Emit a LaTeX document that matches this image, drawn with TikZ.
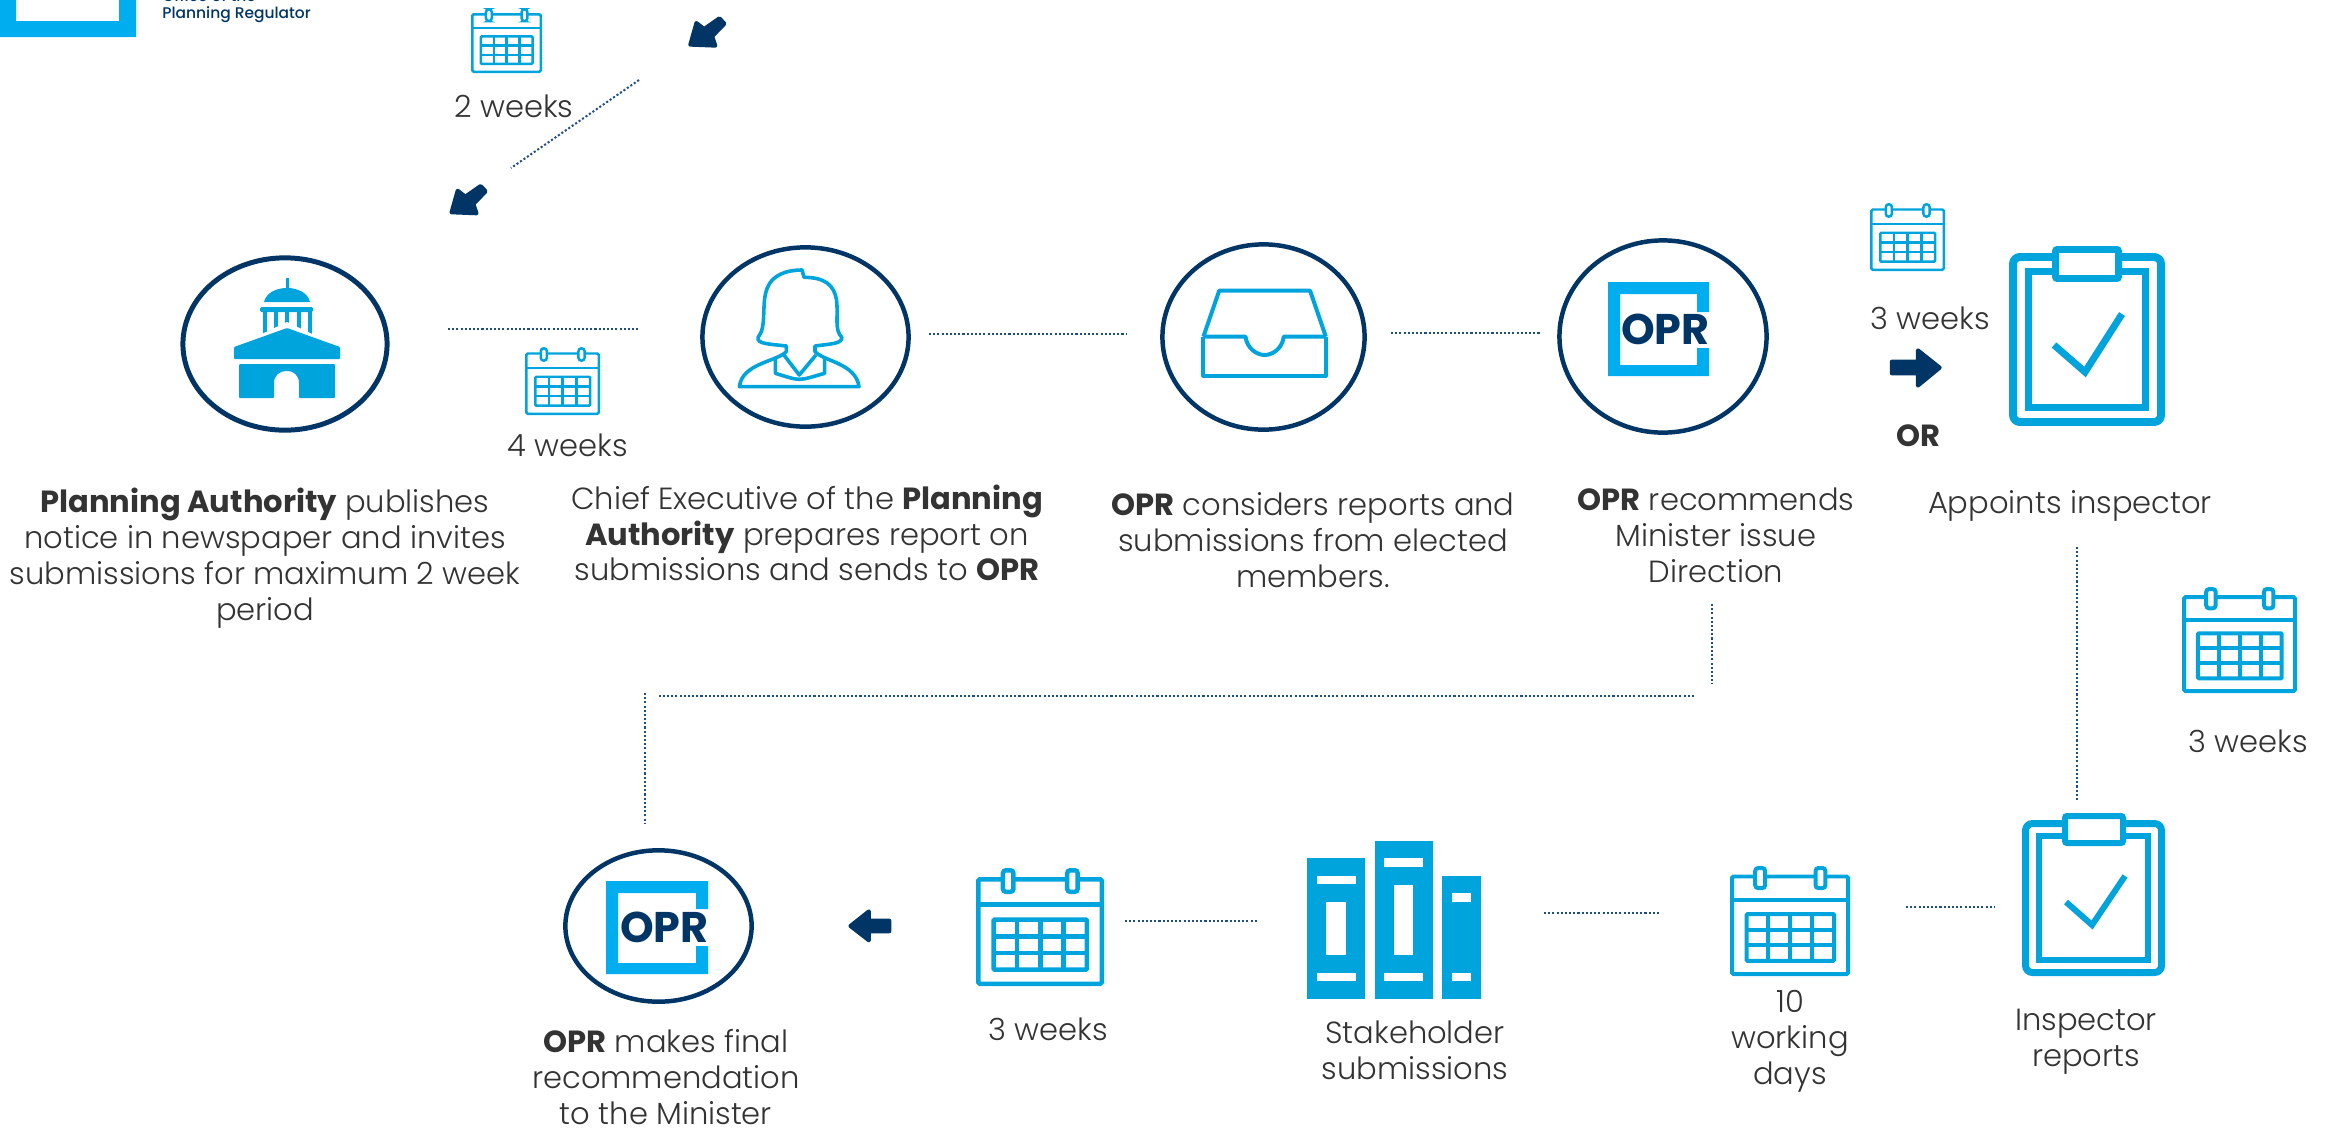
\documentclass[tikz,border=0pt]{standalone}
\usepackage{fontspec}
\setmainfont{Poppins}[UprightFont=* Light,BoldFont=* Bold]
\newfontfamily\logofont{Poppins}[UprightFont=* Medium,BoldFont=* Bold]
\usetikzlibrary{shapes.geometric}
\definecolor{icon}{HTML}{00A4DC}
\definecolor{bright}{HTML}{00AEEF}
\definecolor{navy}{HTML}{003566}
\definecolor{dotc}{HTML}{1F4E85}
\definecolor{ink}{HTML}{333333}
\def\pxu{0.5669pt}
\tikzset{
  txt/.style={align=center,inner sep=0pt,text=ink,font=\fontsize{17.4}{20.4}\selectfont},
  ring/.style={draw=navy,fill=white,ellipse,inner sep=0pt,line width=4.5*\pxu},
  dotline/.style={draw=dotc,line width=2*\pxu,dash pattern=on 2.1*\pxu off 2.1*\pxu},
  iconline/.style={draw=icon,line width=4.5*\pxu,line join=round},
  arrowfill/.style={fill=navy,draw=navy,line width=4*\pxu,line join=round},
  oprtext/.style={inner sep=0pt,text=navy,font=\logofont\bfseries\fontsize{24.4}{26}\selectfont}
}
% x0 y0 x1 y1 line width
\newcommand\calicon[5]{%
  \begin{scope}[shift={(#1+#5/2,#2+#5/2)},xscale=#3-#1-#5,yscale=#4-#2-#5]
    \draw[draw=icon,line width=#5*\pxu,rounded corners=1.5*\pxu] (0,.08) rectangle (1,1);
    \draw[draw=icon,line width=#5*\pxu] (0,.3) -- (1,.3);
    \draw[draw=icon,fill=white,line width=#5*\pxu,rounded corners=3*\pxu] (.2,0) rectangle (.285,.19);
    \draw[draw=icon,fill=white,line width=#5*\pxu,rounded corners=3*\pxu] (.72,0) rectangle (.805,.19);
    \draw[draw=icon,line width=#5*\pxu,rounded corners=1*\pxu] (.125,.435) rectangle (.88,.875);
    \foreach \k in {1,2,3} \draw[draw=icon,line width=#5*\pxu] ({.125+\k*.18875},.435) -- ({.125+\k*.18875},.875);
    \foreach \k in {1,2} \draw[draw=icon,line width=#5*\pxu] (.125,{.435+\k*.14667}) -- (.88,{.435+\k*.14667});
  \end{scope}}
\newcommand\clipicon[5]{%
  \draw[draw=icon,line width=#5*\pxu,rounded corners=7*\pxu] (#1+#5/2,#2+#5/2) rectangle (#3-#5/2,#4-#5/2);}
\newcommand\clipclip[5]{%
  \draw[draw=icon,line width=#5*\pxu,fill=white,rounded corners=2*\pxu] (#1+#5/2,#2+#5/2) rectangle (#3-#5/2,#4-#5/2);}
% x0 y0 x1 y1 ytop ybot
\newcommand\oprlogo[6]{%
  \fill[bright] (#1,#2) -- (#3,#2) -- (#3,#5) -- (#3-12,#5) -- (#3-12,#2+12) -- (#1+12,#2+12) -- (#1+12,#4-11) -- (#3-12,#4-11) -- (#3-12,#6) -- (#3,#6) -- (#3,#4) -- (#1,#4) -- cycle;}
\begin{document}
\begin{tikzpicture}[x=0.02cm,y=-0.02cm]
\path[use as bounding box] (0,0) rectangle (2336,1130);
\clip (0,0) rectangle (2336,1130);

% logo
\fill[bright] (0,-5) -- (16,-5) -- (16,21) -- (119,21) -- (119,-5) -- (136,-5) -- (136,37) -- (0,37) -- cycle;
\node[anchor=base west,inner sep=0pt,text=navy,font=\logofont\fontsize{8.8}{10}\selectfont] (logoA) at (162,1.5) {Office of the};
\node[anchor=base west,inner sep=0pt,text=navy,font=\logofont\fontsize{8.8}{10}\selectfont] (logoB) at (162,18) {Planning Regulator};

% ellipses
\node[ring,line width=5*\pxu,minimum width=205*\pxu,minimum height=173*\pxu] (authority) at (285,344) {};
\node[ring,minimum width=207*\pxu,minimum height=180*\pxu] (chief) at (805.5,337) {};
\node[ring,minimum width=203*\pxu,minimum height=186*\pxu] (tray) at (1263.5,337) {};
\node[ring,minimum width=208*\pxu,minimum height=193*\pxu] (oprA) at (1663,336.5) {};
\node[ring,minimum width=187*\pxu,minimum height=152*\pxu] (oprB) at (658.5,926) {};

% building
\fill[icon] (285.5,278) rectangle (288.5,291);
\fill[icon] (264,302) .. controls (266,293) and (276,288) .. (287,288) .. controls (298,288) and (308,293) .. (310,302) -- cycle;
\fill[icon,rounded corners=1.5*\pxu] (260,307) rectangle (313,312);
\foreach \cx in {264.5,275.5,287,298.5,309.5} \fill[icon] (\cx-2,312) rectangle (\cx+2,334);
\fill[white] (287,322) -- (346,350) -- (228,350) -- cycle;
\fill[icon,rounded corners=1*\pxu] (234,347) -- (287,328) -- (340,347) -- (340,359) -- (234,359) -- cycle;
\fill[icon,rounded corners=1*\pxu] (239,364) -- (335,364) -- (335,398) -- (299,398) -- (299,384) .. controls (299,375) and (293,371) .. (287,371) .. controls (280,371) and (274,375) .. (274,384) -- (274,398) -- (239,398) -- cycle;

% woman
\begin{scope}[shift={(650,220)},xscale=0.4783,yscale=0.3333]
  \draw[iconline,line width=3.6*\pxu] (285,378) .. controls (250,372) and (222,372) .. (226,352) .. controls (245,320) and (232,250) .. (245,205) .. controls (255,165) and (285,150) .. (318,150) -- (322,172) .. controls (365,172) and (385,195) .. (390,240) .. controls (394,290) and (385,330) .. (401,352) .. controls (402,372) and (375,372) .. (345,378) -- (345,395) .. controls (365,425) and (430,430) .. (437,500) -- (187,500) .. controls (192,430) and (265,425) .. (285,395) -- cycle;
  \draw[iconline,line width=3.6*\pxu] (262,415) -- (262,460) .. controls (285,470) and (300,478) .. (312,478) .. controls (325,478) and (340,470) .. (365,460) -- (365,415);
  \draw[iconline,line width=3.6*\pxu] (280,405) -- (312,465) -- (347,405);
\end{scope}

% tray
\begin{scope}[shift={(650,220)},xscale=0.4783,yscale=0.3333]
  \draw[iconline,line width=4*\pxu] (1157,350) -- (1190,212) -- (1380,212) -- (1413,350);
  \draw[iconline,line width=4*\pxu] (1157,350) -- (1157,467) -- (1413,467) -- (1413,350);
  \draw[iconline,line width=4*\pxu] (1157,350) -- (1245,350) .. controls (1248,385) and (1268,405) .. (1285,405) .. controls (1302,405) and (1322,385) .. (1325,350) -- (1413,350);
\end{scope}

% OPR logos
\oprlogo{1608}{282}{1709}{376}{312}{348}
\node[oprtext,anchor=east] (oprwordA) at (1710,329) {OPR};
\oprlogo{606}{881}{708}{974}{909}{946}
\node[oprtext,anchor=east] (oprwordB) at (709,927) {OPR};

% calendars
\calicon{471}{8}{542}{73}{2.5}
\calicon{525}{347}{600}{415}{2.5}
\calicon{1870}{203}{1945}{271}{2.5}
\calicon{2182}{587}{2297}{693}{4}
\calicon{1730}{866}{1850}{976}{4}
\calicon{976}{868}{1104}{986}{4.5}

% clipboards
\clipicon{2009}{253}{2165}{426}{8}
\draw[draw=icon,line width=7*\pxu,fill=white] (2028.5,271.5) rectangle (2145.5,407.5);
\clipclip{2052}{246}{2122}{282}{7}
\draw[draw=icon,line width=7*\pxu] (2054,345) -- (2085,372) -- (2122,314);
\clipicon{2022}{820}{2165}{976}{7}
\draw[draw=icon,line width=6*\pxu,fill=white] (2039,836) rectangle (2148,960);
\clipclip{2062}{813}{2126}{846}{6}
\draw[draw=icon,line width=6*\pxu] (2066,902) -- (2092,925) -- (2125,876);

% books
\fill[icon] (1307,858) rectangle (1365,999);
\fill[icon] (1375,841) rectangle (1433,999);
\fill[icon] (1442,876) rectangle (1481,999);
\fill[white] (1317,876) rectangle (1356,884);
\fill[white] (1326,902) rectangle (1346,955);
\fill[white] (1317,973) rectangle (1356,981);
\fill[white] (1384,858) rectangle (1423,867);
\fill[white] (1394,885) rectangle (1413,955);
\fill[white] (1384,973) rectangle (1423,981);
\fill[white] (1452,893) rectangle (1471,902);
\fill[white] (1452,973) rectangle (1471,981);

% arrows
\begin{scope}[xscale=0.5102,yscale=0.3333]
  \fill[arrowfill] (885,637) -- (897,572) -- (912,590) -- (942,558) -- (952,574) -- (928,612) -- (934,640) -- cycle;
  \fill[arrowfill] (1353,134) -- (1365,69) -- (1380,87) -- (1410,55) -- (1420,71) -- (1396,109) -- (1402,137) -- cycle;
\end{scope}
\begin{scope}[shift={(1500,180)},xscale=0.5330,yscale=0.3333]
  \fill[arrowfill] (735,545) -- (784,545) -- (784,511) -- (825,563) -- (784,617) -- (784,580) -- (735,580) -- cycle;
\end{scope}
\begin{scope}[shift={(520,820)},xscale=0.6378,yscale=0.3333]
  \fill[arrowfill] (518,318) -- (547,274) -- (547,302) -- (579,302) -- (579,334) -- (547,334) -- (547,361) -- cycle;
\end{scope}

% dotted connectors (free ends)
\coordinate (d1a) at (639,80);   \coordinate (d1b) at (511,168);
\coordinate (d2a) at (448,329);  \coordinate (d2b) at (640,329);
\coordinate (d3a) at (929,334);  \coordinate (d3b) at (1127,334);
\coordinate (d4a) at (1391,333); \coordinate (d4b) at (1540,333);
\coordinate (d5a) at (2077,547); \coordinate (d5b) at (2077,801);
\coordinate (d6a) at (1712,604); \coordinate (d6b) at (1712,684);
\coordinate (d7a) at (1694,696); \coordinate (d7b) at (657,696);
\coordinate (d8a) at (645,693);  \coordinate (d8b) at (645,824);
\coordinate (d9a) at (1544,913); \coordinate (d9b) at (1660,913);
\coordinate (d10a) at (1906,907);\coordinate (d10b) at (1994,907);
\coordinate (d11a) at (1125,921);\coordinate (d11b) at (1257,921);
\foreach \a/\b in {d1a/d1b,d2a/d2b,d3a/d3b,d4a/d4b,d5a/d5b,d6a/d6b,d7a/d7b,d8a/d8b,d9a/d9b,d10a/d10b,d11a/d11b}
  \path[dotline] (\a) -- (\b);

% text
\node[txt] (t2w) at (514,106) {2 weeks};
\node[txt] (t4w) at (568,445) {4 weeks};
\node[txt] (t3wa) at (1930,318) {3 weeks};
\node[txt,font=\bfseries\fontsize{17.4}{20.4}\selectfont] (tor) at (1918,436) {OR};
\node[txt] (t3wb) at (2248,741) {3 weeks};
\node[txt] (t3wc) at (1048,1029) {3 weeks};
\node[txt] (tT1) at (265,558) {\textbf{Planning Authority} publishes\\notice in newspaper and invites\\submissions for maximum 2 week\\period};
\node[txt] (tT2) at (807,533) {Chief Executive of the \textbf{Planning}\\\textbf{Authority} prepares report on\\submissions and sends to \textbf{OPR}};
\node[txt] (tT3) at (1313,540) {\textbf{OPR} considers reports and\\submissions from elected\\members.};
\node[txt] (tT4) at (1716,535) {\textbf{OPR} recommends\\Minister issue\\Direction};
\node[txt] (tT5) at (2070,506) {Appoints inspector};
\node[txt] (tT6) at (666,1077) {\textbf{OPR} makes final\\recommendation\\to the Minister};
\node[txt] (tT7) at (1415,1050) {Stakeholder\\submissions};
\node[txt] (tT8) at (1790,1041) {10\\working\\days};
\node[txt] (tT9) at (2086,1042) {Inspector\\reports};
\end{tikzpicture}
\end{document}
